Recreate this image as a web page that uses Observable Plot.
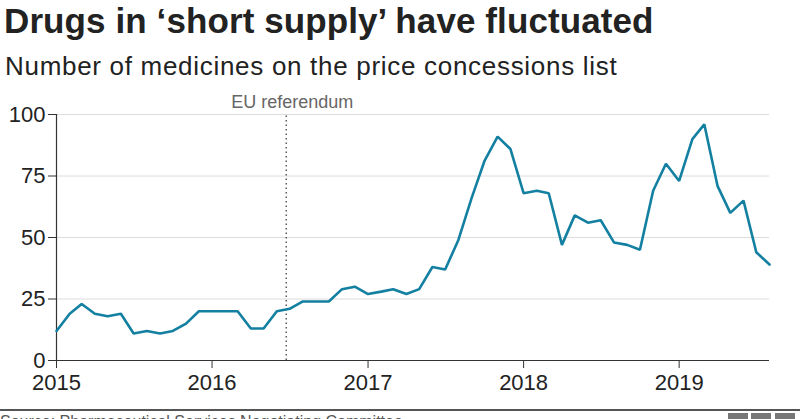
<!DOCTYPE html>
<html>
<head>
<meta charset="utf-8">
<script src="https://cdn.jsdelivr.net/npm/d3@7"></script>
<script src="https://cdn.jsdelivr.net/npm/@observablehq/plot@0.6"></script>
<style>
  html, body { margin: 0; padding: 0; background: #fff; }
  body { width: 800px; height: 419px; overflow: hidden; position: relative;
         font-family: "Liberation Sans", Arial, Helvetica, sans-serif; color: #222; }
  #title { position: absolute; left: 4px; top: 1px; font-size: 35px; font-weight: bold; line-height: 40px; white-space: nowrap; letter-spacing: 0.1px; }
  #subtitle { position: absolute; left: 5px; top: 50px; font-size: 26px; line-height: 32px; white-space: nowrap; letter-spacing: 0.7px; }
  #chart { position: absolute; left: 0; top: 85px; }
  #rule { position: absolute; left: 0; top: 409px; width: 800px; height: 2px; background: #555; }
  #source { position: absolute; left: 0; top: 413px; font-size: 16px; color: #555; white-space: nowrap; }
  .logo { position: absolute; top: 413px; width: 20px; height: 20px; background: #777; }
</style>
</head>
<body>
<div id="title">Drugs in ‘short supply’ have fluctuated</div>
<div id="subtitle">Number of medicines on the price concessions list</div>
<div id="chart"></div>
<div id="rule"></div>
<div id="source">Source: Pharmaceutical Services Negotiating Committee</div>
<div class="logo" style="left:728px"></div>
<div class="logo" style="left:751px"></div>
<div class="logo" style="left:775px"></div>
<script>
// Monthly series, January 2015 to August 2019
const startMonth = "2015-01-01";
const endMonth = "2019-08-01";
const values = [
  12, 19, 23, 19, 18, 19, 11, 12, 11, 12, 15, 20,   // 2015
  20, 20, 20, 13, 13, 20, 21, 24, 24, 24, 29, 30,   // 2016
  27, 28, 29, 27, 29, 38, 37, 49, 66, 81, 91, 86,   // 2017
  68, 69, 68, 47, 59, 56, 57, 48, 47, 45, 69, 80,   // 2018
  73, 90, 96, 71, 60, 65, 44, 39                    // 2019
];
const yTicks = [0, 25, 50, 75, 100];
const xTickLabels = ["2015", "2016", "2017", "2018", "2019"];
const euDate = "2016-06-23";
const euLabel = "EU referendum";

const months = d3.utcMonth.range(new Date(startMonth), d3.utcMonth.offset(new Date(endMonth), 1));
const data = values.map((v, i) => ({date: months[i], value: v}));
const xTicks = xTickLabels.map(y => new Date(y + "-01-01"));
const eu = new Date(euDate);

const chart = Plot.plot({
  width: 800,
  height: 320,
  marginLeft: 56,
  marginRight: 31,
  marginTop: 29,
  marginBottom: 45,
  style: {fontFamily: '"Liberation Sans", Arial, sans-serif', fontSize: "22px", color: "#222", background: "white", overflow: "visible"},
  x: {type: "utc", domain: [new Date(startMonth), new Date(endMonth)]},
  y: {domain: [0, 100]},
  marks: [
    Plot.gridY(yTicks, {stroke: "#dcdcdc", strokeOpacity: 1, strokeWidth: 1}),
    Plot.axisY(yTicks, {tickSize: 8, tickPadding: 3, label: null, stroke: "#333", fill: "#222", fontSize: 22}),
    Plot.axisX(xTicks, {tickSize: 8, tickPadding: 6, label: null, stroke: "#333", fill: "#222", fontSize: 22, tickFormat: (d, i) => xTickLabels[i]}),
    Plot.ruleY([0], {stroke: "#333", strokeWidth: 1.2}),
    Plot.ruleX([new Date(startMonth)], {stroke: "#333", strokeWidth: 1.2}),
    Plot.ruleX([eu], {y1: 0, y2: 100, stroke: "#333", strokeWidth: 1.2, strokeDasharray: "1.5,3"}),
    Plot.text([euLabel], {x: eu, y: 100, text: d => d, dy: -12, dx: 6, fill: "#666", fontSize: 18}),
    Plot.line(data, {x: "date", y: "value", stroke: "#1380A1", strokeWidth: 2.6, strokeLinejoin: "miter"})
  ]
});
document.getElementById("chart").appendChild(chart);
</script>
</body>
</html>
